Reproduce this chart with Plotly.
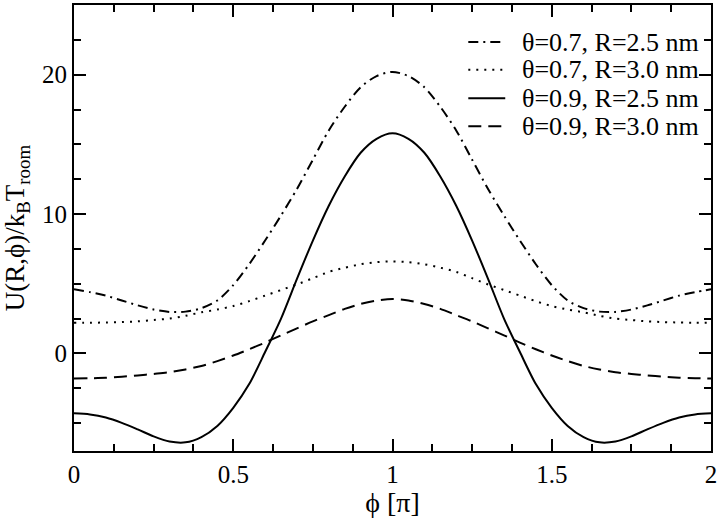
import plotly.graph_objects as go

phi = [0.0, 0.05, 0.1, 0.15, 0.2, 0.25, 0.3, 0.35, 0.4, 0.45, 0.5, 0.55, 0.6, 0.65, 0.7, 0.75, 0.8, 0.85, 0.9, 0.95, 1.0,
       1.05, 1.1, 1.15, 1.2, 1.25, 1.3, 1.35, 1.4, 1.45, 1.5, 1.55, 1.6, 1.65, 1.7, 1.75, 1.8, 1.85, 1.9, 1.95, 2.0]

u_07_25 = [4.6, 4.4, 4.15, 3.8, 3.45, 3.15, 2.98, 3.0, 3.25, 3.8, 4.9, 6.4, 8.1, 9.9, 11.8, 13.9, 16.0, 17.7, 19.1, 19.9, 20.2,
           19.9, 19.1, 17.7, 16.0, 13.9, 11.8, 9.9, 8.1, 6.4, 4.9, 3.8, 3.25, 3.0, 2.98, 3.15, 3.45, 3.8, 4.15, 4.4, 4.6]

u_07_30 = [2.2, 2.2, 2.22, 2.25, 2.3, 2.4, 2.5, 2.7, 2.95, 3.15, 3.4, 3.75, 4.15, 4.55, 4.95, 5.4, 5.85, 6.15, 6.4, 6.55, 6.6,
           6.55, 6.4, 6.15, 5.85, 5.4, 4.95, 4.55, 4.15, 3.75, 3.4, 3.15, 2.95, 2.7, 2.5, 2.4, 2.3, 2.25, 2.22, 2.2, 2.2]

u_09_25 = [-4.3, -4.38, -4.6, -4.98, -5.45, -5.95, -6.32, -6.38, -6.0, -5.2, -3.9, -2.2, 0.1, 2.5, 5.35, 8.1, 10.6, 12.7, 14.4, 15.4, 15.8,
           15.4, 14.4, 12.7, 10.6, 8.1, 5.35, 2.5, 0.1, -2.2, -3.9, -5.2, -6.0, -6.38, -6.32, -5.95, -5.45, -4.98, -4.6, -4.38, -4.3]

u_09_30 = [-1.8, -1.78, -1.74, -1.67, -1.58, -1.47, -1.35, -1.15, -0.9, -0.55, -0.15, 0.3, 0.78, 1.3, 1.8, 2.3, 2.75, 3.2, 3.55, 3.8, 3.9,
           3.8, 3.55, 3.2, 2.75, 2.3, 1.8, 1.3, 0.78, 0.3, -0.15, -0.55, -0.9, -1.15, -1.35, -1.47, -1.58, -1.67, -1.74, -1.78, -1.8]

labels = ["θ=0.7, R=2.5 nm", "θ=0.7, R=3.0 nm", "θ=0.9, R=2.5 nm", "θ=0.9, R=3.0 nm"]
series = [u_07_25, u_07_30, u_09_25, u_09_30]
dashes = ["10px,5px,2px,5px", "2px,6px", "solid", "13px,7px"]

FONT = "Liberation Serif, Times New Roman, serif"

fig = go.Figure()
for lab, ys, d in zip(labels, series, dashes):
    fig.add_trace(go.Scatter(x=phi, y=ys, mode="lines", name=lab, showlegend=False,
                             line=dict(color="black", width=2, dash=d, shape="spline", smoothing=0.8)))

# Custom legend (text as annotations, line samples as shapes in paper space)
legend_rows_y = [0.917, 0.855, 0.791, 0.728]
for lab, d, yy in zip(labels, dashes, legend_rows_y):
    fig.add_shape(type="line", xref="paper", yref="paper", x0=0.619, x1=0.677, y0=yy, y1=yy,
                  line=dict(color="black", width=2, dash=d))
    fig.add_annotation(xref="paper", yref="paper", x=0.700, y=yy, xanchor="left", yanchor="middle",
                       text=lab, showarrow=False, font=dict(family=FONT, size=26, color="black"))

axis_common = dict(showline=True, linecolor="black", linewidth=2, mirror="ticks",
                   ticks="inside", ticklen=12, tickwidth=2, tickcolor="black",
                   showgrid=False, zeroline=False,
                   tickfont=dict(family=FONT, size=25, color="black"))

fig.update_xaxes(range=[0, 2], dtick=0.5, tick0=0,
                 minor=dict(dtick=0.125, ticks="inside", ticklen=7, tickwidth=1.5, tickcolor="black"),
                 title=dict(text="ϕ [π]", font=dict(family=FONT, size=28, color="black"), standoff=6),
                 **axis_common)
fig.update_yaxes(range=[-7, 25], dtick=10, tick0=0,
                 minor=dict(dtick=2.5, ticks="inside", ticklen=7, tickwidth=1.5, tickcolor="black"),
                 title=dict(text="U(R,ϕ)/k<sub>B</sub>T<sub>room</sub>", font=dict(family=FONT, size=27, color="black"), standoff=12),
                 **axis_common)

fig.update_layout(
    width=720, height=518,
    margin=dict(l=74, r=9, t=5, b=67, autoexpand=False),
    plot_bgcolor="white", paper_bgcolor="white",
    font=dict(family=FONT, size=25, color="black"),
    showlegend=False,
)

fig.write_html("out.html", config={"displayModeBar": False},
               post_script="document.body.style.margin='0px';document.body.style.overflow='hidden';")
